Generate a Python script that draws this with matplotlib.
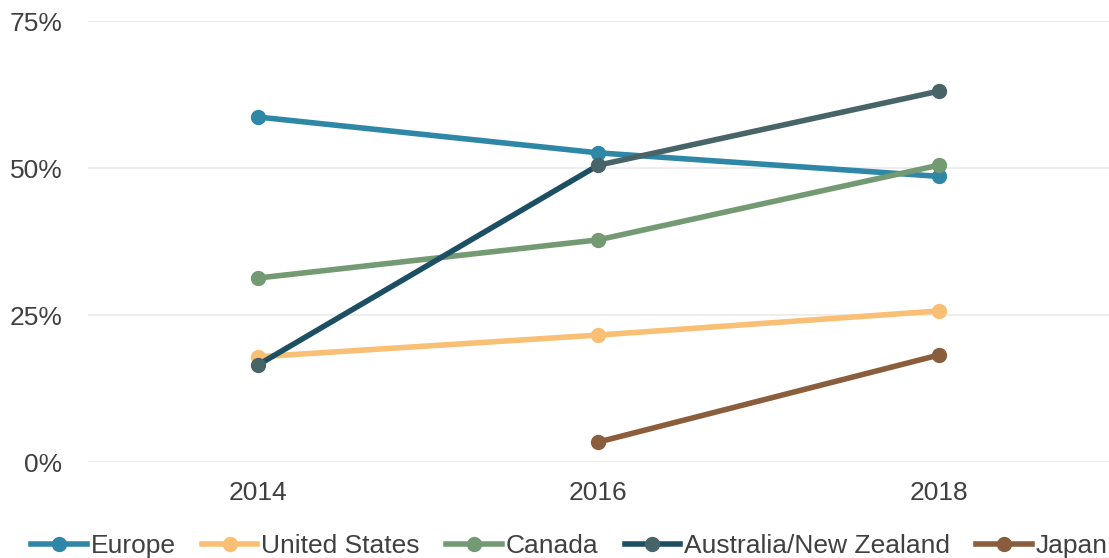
import numpy as np
import matplotlib.pyplot as plt
from matplotlib.lines import Line2D
from matplotlib.ticker import FuncFormatter

plt.rcParams['font.family'] = ['Liberation Sans', 'DejaVu Sans']
plt.rcParams['font.size'] = 19

years = [2014, 2016, 2018]
europe = [58.7, 52.6, 48.6]
united_states = [17.9, 21.6, 25.7]
canada = [31.3, 37.8, 50.5]
aus_nz = [16.5, 50.5, 63.1]
japan_years = [2016, 2018]
japan = [3.4, 18.2]

c_eu = '#2e87a6'
c_us = '#f9bf74'
c_ca = '#739a73'
c_au = '#1c4f63'
c_au2 = '#476468'
c_jp = '#8a5e3c'

fig = plt.figure(figsize=(11.09, 5.58), dpi=100)
ax = fig.add_axes([0.079, 0.172, 0.921, 0.79])

lw, ms = 4.0, 10
ax.plot(years, europe, color=c_eu, lw=lw, marker='o', ms=ms, zorder=3)
ax.plot(years, united_states, color=c_us, lw=lw, marker='o', ms=ms, zorder=3)
ax.plot(years, canada, color=c_ca, lw=lw, marker='o', ms=ms, zorder=3)
# first segment dark, later segment and markers in the grey-teal
ax.plot(years[:2], aus_nz[:2], color=c_au, lw=lw, zorder=4)
ax.plot(years[1:], aus_nz[1:], color=c_au2, lw=lw, zorder=4)
ax.plot(years, aus_nz, ls='none', marker='o', ms=ms, color=c_au2, zorder=5)
ax.plot(japan_years, japan, color=c_jp, lw=lw, marker='o', ms=ms, zorder=3)

ax.set_xlim(2013, 2019)
ax.set_ylim(0, 75)
ax.set_xticks(years)
ax.set_yticks([0, 25, 50, 75])
ax.yaxis.set_major_formatter(FuncFormatter(lambda v, p: '%d%%' % v))
ax.tick_params(length=0, colors='#404040', labelsize=19)
ax.tick_params(axis='y', pad=18)
ax.tick_params(axis='x', pad=14)
for s in ax.spines.values():
    s.set_visible(False)
ax.grid(axis='y', color='#ececec', lw=1.3, zorder=0)
ax.axhline(0, color='#d9d9d9', lw=1.5, zorder=1)

handles = [
    Line2D([], [], color=c_eu, lw=lw, marker='o', ms=ms),
    Line2D([], [], color=c_us, lw=lw, marker='o', ms=ms),
    Line2D([], [], color=c_ca, lw=lw, marker='o', ms=ms),
    Line2D([], [], color=c_au, lw=lw, marker='o', ms=ms,
           markerfacecolor=c_au2, markeredgecolor=c_au2),
    Line2D([], [], color=c_jp, lw=lw, marker='o', ms=ms),
]
labels = ['Europe', 'United States', 'Canada', 'Australia/New Zealand', 'Japan']
fig.legend(handles, labels, loc='center', bbox_to_anchor=(0.5135, 0.021), ncol=5,
           frameon=False, handlelength=2.1, handletextpad=0.15,
           columnspacing=1.0, labelcolor='#404040', fontsize=19,
           borderpad=0, borderaxespad=0)

fig.savefig('out.png', dpi=100)
